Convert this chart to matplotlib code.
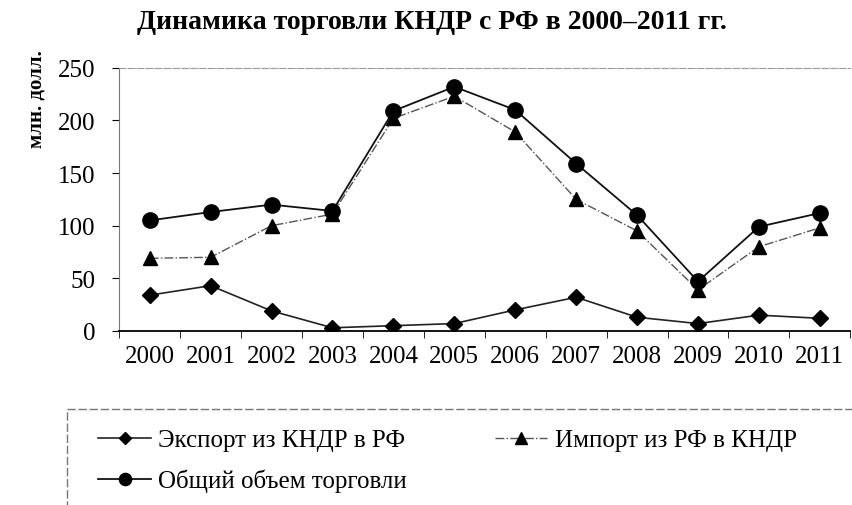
import matplotlib.pyplot as plt
import numpy as np
from matplotlib.patches import Rectangle

plt.rcParams['font.family'] = ['Liberation Serif', 'DejaVu Serif']

# Данные: торговля КНДР с РФ, млн. долл.
years = ['2000', '2001', '2002', '2003', '2004', '2005',
         '2006', '2007', '2008', '2009', '2010', '2011']
export_kndr = [34, 43, 19, 3, 5, 7, 20, 32, 13, 7, 15, 12]
import_rf = [69, 70, 100, 111, 202, 223, 189, 125, 95, 39, 80, 98]
total_trade = [105, 113, 120, 114, 209, 232, 210, 159, 110, 47, 99, 112]

fig = plt.figure(figsize=(8.52, 5.06), dpi=100)
ax = fig.add_axes([0.140, 0.344, 0.858, 0.520])

x = np.arange(len(years))
l1, = ax.plot(x, export_kndr, color='#222222', lw=1.2, marker='D', ms=8,
              mfc='black', mec='black', label='Экспорт из КНДР в РФ')
l2, = ax.plot(x, import_rf, color='#555555', lw=1.0, ls='-.', marker='^', ms=10,
              mfc='black', mec='black', label='Импорт из РФ в КНДР')
l3, = ax.plot(x, total_trade, color='#111111', lw=1.3, marker='o', ms=11,
              mfc='black', mec='black', label='Общий объем торговли')

ax.set_xlim(-0.5, len(years) - 0.5)
ax.set_ylim(0, 250)
ax.set_yticks([0, 50, 100, 150, 200, 250])
ax.set_xticks(x)
ax.set_xticklabels(years)
ax.set_xticks(np.arange(-0.5, len(years), 1), minor=True)
ax.tick_params(axis='x', which='major', length=0, pad=10, labelsize=18)
ax.tick_params(axis='x', which='minor', length=5, direction='out')
ax.tick_params(axis='y', length=5, direction='out', labelsize=18, pad=12)

ax.spines['right'].set_visible(False)
ax.spines['top'].set_color('#999999')
ax.spines['top'].set_linestyle((0, (6, 2)))
ax.spines['left'].set_color('#777777')
ax.spines['bottom'].set_linewidth(1.3)

fig.text(0.507, 0.955, 'Динамика торговли КНДР с РФ в 2000–2011 гг.',
         ha='center', va='center', fontsize=20, fontweight='bold')
fig.text(0.043, 0.805, 'млн. долл.', rotation=90, ha='center', va='center',
         fontsize=15, fontweight='bold')

# рамка легенды (обрезана краем рисунка)
fig.patches.append(Rectangle((0.079, -0.1), 1.0, 0.29, transform=fig.transFigure,
                             fill=False, ec='#777777', lw=1.0, ls=(0, (6, 2))))
fig.legend([l1, l3, l2], [l1.get_label(), l3.get_label(), l2.get_label()],
           ncol=2, loc='upper left', bbox_to_anchor=(0.092, 0.19),
           frameon=False, fontsize=18, handlelength=2.1, columnspacing=3.5,
           labelspacing=0.7, handletextpad=0.3, markerscale=0.8,
           borderpad=0.3)

fig.savefig('out.png', dpi=100)
